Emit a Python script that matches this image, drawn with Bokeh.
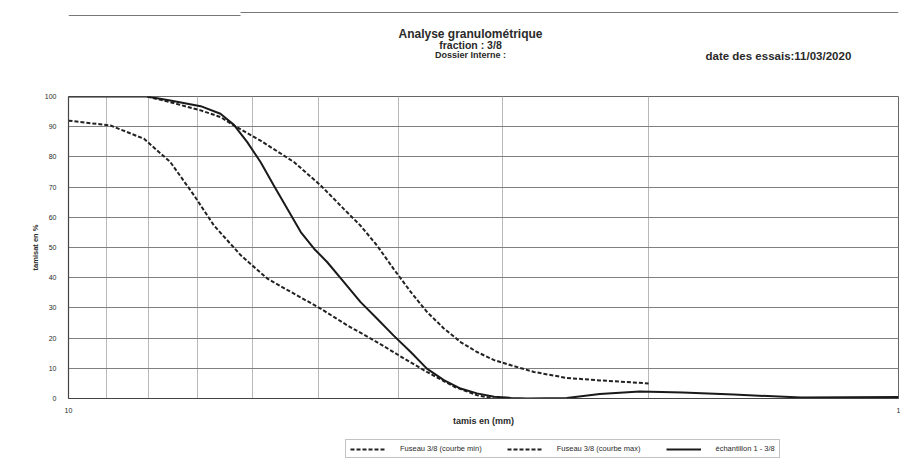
from bokeh.plotting import figure
from bokeh.layouts import column
from bokeh.models import Range1d, FixedTicker, Legend, LegendItem, BasicTickFormatter
from bokeh.core.properties import value
from bokeh.embed import file_html
from bokeh.resources import INLINE

# ---- data (sieve size in mm, percent passing) ----
min_size = [10.0, 8.90, 8.11, 7.54, 7.06, 6.68, 6.20, 5.76, 5.35, 4.97, 4.62, 4.25, 3.94, 3.70, 3.43, 3.22, 3.07]
min_pass = [92.0, 90.4, 86.0, 78.3, 67.3, 57.3, 47.4, 39.7, 34.7, 29.8, 24.3, 18.7, 13.2, 8.8, 3.9, 1.1, 0.0]

max_size = [8.04, 7.54, 6.93, 6.56, 6.32, 5.87, 5.35, 4.97, 4.66, 4.45, 4.25, 4.06, 3.87, 3.70, 3.53, 3.37, 3.22, 3.07, 2.93, 2.75, 2.51, 2.29, 2.00]
max_pass = [100, 98.1, 95.4, 93.2, 90.4, 85.4, 78.3, 70.6, 62.8, 57.3, 50.7, 43.0, 35.3, 28.7, 23.2, 18.7, 15.4, 12.7, 11.0, 8.8, 6.8, 6.0, 5.0]

sample_size = [10.0, 8.04, 7.54, 6.93, 6.56, 6.32, 6.09, 5.87, 5.66, 5.45, 5.25, 5.06, 4.88, 4.66, 4.45, 4.25, 4.06,
               3.87, 3.70, 3.53, 3.37, 3.22, 3.07, 2.93, 2.80, 2.51, 2.29, 2.05, 1.82, 1.58, 1.31, 1.0]
sample_pass = [100, 100, 98.7, 96.8, 94.3, 90.6, 84.9, 78.3, 70.6, 62.8, 55.1, 49.6, 45.2, 38.6, 32.0, 26.5, 20.9,
               15.4, 9.9, 6.1, 3.3, 1.7, 0.6, 0.2, 0.0, 0.2, 1.5, 2.3, 2.0, 1.3, 0.3, 0.5]

x_ticks = [10, 1]
x_grid_ticks = [9, 8, 7, 6, 5, 4, 3, 2]
y_ticks = [0, 10, 20, 30, 40, 50, 60, 70, 80, 90, 100]

labels = ["Fuseau 3/8 (courbe min)", "Fuseau 3/8 (courbe max)", "échantillon 1 - 3/8"]
title_lines = ["Analyse granulométrique", "fraction : 3/8", "Dossier Interne :"]
date_text = "date des essais:11/03/2020"

FONT = "Liberation Sans"
TXT = "#2a2a2a"
W = 900
LEFT, RIGHT = 68, 898   # frame edges on the page (column aligns all frames)

# ---- header (title block) ----
H_HEAD = 70
head = figure(width=W, height=H_HEAD, x_range=Range1d(LEFT, RIGHT), y_range=Range1d(H_HEAD, 0),
              output_backend="svg", toolbar_location=None, min_border=0)
head.axis.visible = False
head.grid.visible = False
head.outline_line_color = None
head.text(x=[470, 470, 470], y=[33, 44, 54], text=title_lines,
          text_font=value(FONT), text_font_size=["12px", "10.5px", "9px"], text_font_style="bold",
          text_color=TXT, text_align="center", text_baseline="middle")
head.text(x=[705], y=[55], text=[date_text], text_font=value(FONT), text_font_size="11.5px",
          text_font_style="bold", text_color=TXT, text_align="left", text_baseline="middle")
head.segment(x0=[LEFT, 240], y0=[15, 12], x1=[240, RIGHT], y1=[15, 12], line_color="#777777", line_width=1)

# ---- main chart ----
H_MAIN = 358
p = figure(width=W, height=H_MAIN, x_axis_type="log",
           x_range=Range1d(10, 1), y_range=Range1d(0, 100),
           output_backend="svg", toolbar_location=None,
           min_border_left=LEFT, min_border_right=W - RIGHT, min_border_top=96 - H_HEAD, min_border_bottom=30)

p.outline_line_color = "#666666"
p.background_fill_color = "white"
p.border_fill_color = "white"

p.xaxis.ticker = FixedTicker(ticks=x_ticks)
p.xaxis.formatter = BasicTickFormatter()
p.xaxis.major_label_overrides = {10: "10", 1: "1"}
p.yaxis.ticker = FixedTicker(ticks=y_ticks)
for ax in (p.xaxis[0], p.yaxis[0]):
    ax.major_tick_out = 0
    ax.major_tick_in = 0
    ax.minor_tick_out = 0
    ax.minor_tick_in = 0
    ax.axis_line_color = "#444444"
    ax.axis_line_width = 1.2
    ax.major_label_text_font = FONT
    ax.major_label_text_font_size = "7px"
    ax.major_label_text_color = TXT
    ax.axis_label_text_font = FONT
    ax.axis_label_text_font_style = "bold"
    ax.axis_label_text_color = TXT
p.yaxis.major_label_standoff = 12
p.xaxis.major_label_standoff = 9
p.yaxis.axis_label = "tamisat en %"
p.yaxis.axis_label_text_font_size = "7.5px"
p.yaxis.axis_label_standoff = 2
p.xaxis.axis_label = "tamis en (mm)"
p.xaxis.axis_label_text_font_size = "9px"
p.xaxis.axis_label_standoff = 0

p.xgrid.ticker = FixedTicker(ticks=x_grid_ticks)
p.xgrid.grid_line_color = "#b8b8b8"
p.xgrid.grid_line_width = 1
p.ygrid.ticker = FixedTicker(ticks=y_ticks)
p.ygrid.grid_line_color = "#808080"
p.ygrid.grid_line_width = 1

dash_style = dict(line_color="#222222", line_width=2, line_dash="4 2")
solid_style = dict(line_color="#1a1a1a", line_width=2)
p.line(min_size, min_pass, **dash_style)
p.line(max_size, max_pass, **dash_style)
p.line(sample_size, sample_pass, **solid_style)

# ---- footer with legend (series drawn out of view, only their legend glyphs show) ----
H_FOOT = 463 - H_HEAD - H_MAIN
foot = figure(width=W, height=H_FOOT, x_range=Range1d(1000, 1100), y_range=Range1d(1000, 1100),
              output_backend="svg", toolbar_location=None, min_border=0)
foot.axis.visible = False
foot.grid.visible = False
foot.outline_line_color = None
l1 = foot.line(min_size, min_pass, **dash_style)
l2 = foot.line(max_size, max_pass, **dash_style)
l3 = foot.line(sample_size, sample_pass, **solid_style)
legend = Legend(items=[LegendItem(label=labels[0], renderers=[l1]),
                       LegendItem(label=labels[1], renderers=[l2]),
                       LegendItem(label=labels[2], renderers=[l3])],
                location=(345 - LEFT, 5), orientation="horizontal",
                label_text_font=FONT, label_text_font_size="7.5px", label_text_color=TXT,
                glyph_width=35, glyph_height=8, label_standoff=15, spacing=25,
                padding=4, margin=0, border_line_color="#888888", border_line_width=1,
                background_fill_color="white", background_fill_alpha=1)
foot.add_layout(legend, "center")

layout = column(head, p, foot, spacing=0)
open("out.html", "w").write(file_html(layout, INLINE))
